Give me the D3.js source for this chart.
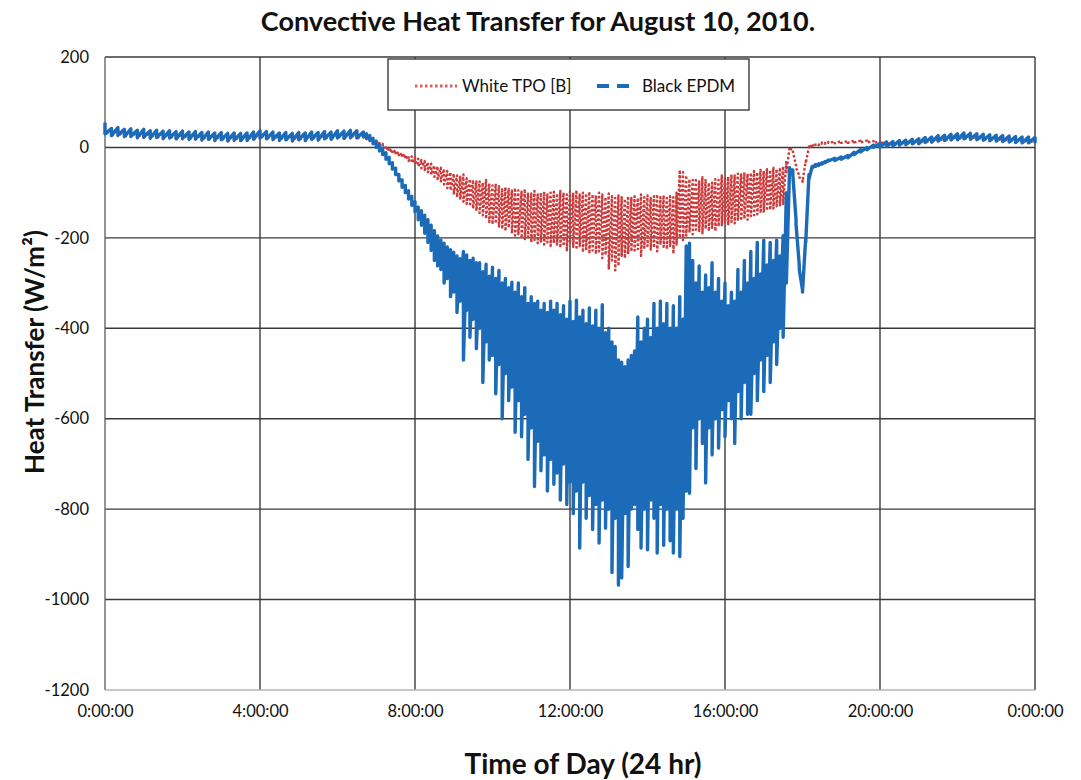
<!DOCTYPE html>
<html>
<head>
<meta charset="utf-8">
<script src="https://cdn.jsdelivr.net/npm/d3@7"></script>
<style>
  body { margin: 0; background: #fff; }
  text { font-family: Lato, "Open Sans", sans-serif; fill: #111; }
</style>
</head>
<body>
<div id="chart"></div>
<script>
var seriesNames = ["White TPO [B]", "Black EPDM"];
var hourTicks = [0, 4, 8, 12, 16, 20, 24];
var hourTickLabels = ["0:00:00", "4:00:00", "8:00:00", "12:00:00", "16:00:00", "20:00:00", "0:00:00"];
var valueTicks = [200, 0, -200, -400, -600, -800, -1000, -1200];

// Each slot holds the highest and the lowest reading seen in it.

// 0:00 -> 6:40, 10 min slots
var whiteNightHigh = [45, 38, 40, 36, 37, 34, 36, 33, 34, 32, 33, 31, 32, 30, 31, 29, 30, 28, 29, 27,
  28, 27, 28, 30, 33, 31, 30, 28, 29, 27, 29, 28, 30, 29, 31, 30, 33, 32, 34, 33, 30];
var whiteNightLow = [28, 24, 25, 22, 23, 20, 21, 19, 20, 18, 19, 17, 18, 16, 17, 15, 16, 14, 15, 13,
  14, 13, 14, 16, 19, 17, 16, 14, 15, 13, 15, 14, 16, 15, 17, 16, 19, 18, 20, 19, 22];
var blackNightHigh = [55, 42, 44, 40, 41, 38, 40, 37, 38, 36, 37, 35, 36, 34, 35, 33, 34, 32, 33, 31,
  32, 31, 32, 34, 37, 35, 34, 32, 33, 31, 33, 32, 34, 33, 35, 34, 37, 36, 38, 37, 36];
var blackNightLow = [30, 26, 27, 24, 25, 22, 23, 21, 22, 20, 21, 19, 20, 18, 19, 17, 18, 16, 17, 15,
  16, 15, 16, 18, 21, 19, 18, 16, 17, 15, 17, 16, 18, 17, 19, 18, 21, 20, 22, 21, 24];

// 6:40 -> 18:40, 5 min slots (one row = one hour)
var whiteDayHigh = [
  28, 24, 22, 18, 15, 10, 8, 3, 0, -4, -6, -10,
  -12, -15, -18, -20, -22, -25, -28, -30, -33, -36, -40, -42,
  -45, -48, -52, -55, -58, -62, -65, -60, -68, -70, -72, -75,
  -75, -78, -72, -80, -84, -80, -86, -90, -88, -92, -95, -90,
  -95, -98, -92, -100, -102, -96, -104, -100, -98, -104, -100, -98,
  -102, -96, -100, -104, -98, -100, -95, -104, -100, -102, -98, -104,
  -106, -100, -104, -110, -102, -108, -112, -106, -110, -114, -108, -112,
  -108, -112, -104, -110, -106, -112, -108, -104, -110, -106, -112, -108,
  -110, -100, -50, -55, -62, -70, -72, -68, -75, -66, -70, -78,
  -78, -70, -72, -62, -68, -65, -60, -62, -58, -60, -55, -58,
  -56, -52, -55, -50, -52, -48, -50, -45, -48, -45, -42, -30,
  0, -4, -40, -62, -72, -30, 2, 6, 9, 7, 11, 10,
  12];
var whiteDayLow = [
  22, 18, 14, 10, 6, 2, -2, -6, -10, -13, -16, -20,
  -22, -26, -30, -34, -38, -42, -46, -50, -55, -60, -65, -70,
  -75, -82, -90, -95, -102, -110, -115, -120, -125, -130, -135, -140,
  -145, -150, -158, -165, -170, -168, -175, -180, -185, -178, -190, -195,
  -192, -200, -205, -198, -210, -205, -212, -208, -215, -210, -218, -212,
  -215, -222, -218, -230, -212, -220, -226, -218, -232, -225, -235, -228,
  -236, -230, -245, -238, -268, -250, -272, -262, -240, -245, -236, -230,
  -228, -225, -240, -222, -218, -226, -222, -230, -215, -220, -225, -218,
  -235, -215, -200, -205, -195, -188, -192, -182, -185, -190, -180, -185,
  -178, -185, -175, -172, -168, -170, -165, -168, -160, -162, -158, -160,
  -152, -150, -148, -145, -142, -140, -138, -135, -130, -128, -125, -55,
  -3, -8, -45, -66, -76, -35, -1, 3, 6, 5, 8, 8,
  10];
var blackDayHigh = [
  34, 30, 26, 20, 14, 6, -2, -12, -22, -34, -46, -60,
  -72, -84, -96, -108, -120, -132, -140, -150, -160, -172, -184, -196,
  -205, -212, -220, -226, -232, -240, -246, -230, -238, -250, -245, -255,
  -255, -275, -258, -285, -265, -290, -272, -300, -290, -310, -298, -320,
  -300, -330, -310, -345, -330, -345, -340, -360, -345, -365, -340, -360,
  -345, -370, -350, -380, -340, -385, -338, -375, -360, -390, -355, -395,
  -360, -400, -348, -410, -400, -430, -440, -470, -475, -485, -470, -460,
  -450, -375, -430, -400, -380, -420, -345, -400, -340, -390, -345, -400,
  -350, -400, -330, -380, -218, -212, -250, -300, -262, -320, -282, -310,
  -255, -320, -290, -340, -300, -350, -320, -340, -270, -320, -250, -300,
  -230, -290, -210, -280, -205, -260, -210, -250, -205, -240, -195, -100,
  -45, -50, -160, -260, -315, -200, -60, -42, -38, -36, -34, -31,
  -28];
var blackDayLow = [
  24, 20, 16, 8, 0, -8, -16, -26, -36, -48, -60, -74,
  -88, -100, -114, -128, -142, -160, -172, -190, -210, -228, -250, -262,
  -270, -300, -290, -330, -320, -365, -340, -470, -360, -420, -380, -445,
  -400, -520, -430, -470, -460, -545, -480, -600, -500, -560, -530, -630,
  -560, -640, -590, -690, -620, -750, -650, -715, -680, -760, -690, -745,
  -720, -780, -700, -790, -740, -810, -760, -886, -740, -820, -770, -845,
  -790, -875, -780, -842, -800, -940, -820, -968, -952, -810, -927, -800,
  -790, -845, -886, -800, -890, -780, -820, -897, -790, -880, -800, -870,
  -897, -800, -905, -820, -760, -765, -620, -710, -600, -655, -742, -620,
  -680, -600, -665, -580, -640, -560, -600, -655, -540, -600, -520, -590,
  -590, -500, -560, -470, -540, -460, -520, -430, -480, -400, -420, -300,
  -50, -60, -170, -270, -320, -210, -70, -46, -42, -40, -37, -34,
  -30];

// 18:40 -> 24:00, 10 min slots
var whiteEveHigh = [13, 13, 14, 14, 15, 15, 15, 14, 14, 13, 12, 12, 13, 14, 15, 17, 18, 20, 21, 23,
  24, 25, 25, 24, 23, 22, 21, 20, 19, 18, 17, 17, 16];
var whiteEveLow = [10, 9, 10, 10, 11, 11, 11, 10, 9, 7, 5, 5, 6, 7, 8, 10, 11, 13, 14, 16,
  17, 18, 18, 17, 16, 15, 14, 13, 12, 11, 10, 10, 9];
var blackEveHigh = [-26, -24, -21, -18, -11, -5, 0, 5, 9, 12, 13, 15, 16, 18, 19, 22, 23, 26, 27, 29,
  30, 32, 31, 30, 29, 28, 27, 26, 25, 24, 23, 23, 22];
var blackEveLow = [-30, -29, -26, -23, -16, -10, -5, 0, 1, 2, 3, 5, 6, 8, 8, 11, 12, 14, 15, 17,
  17, 19, 18, 17, 16, 15, 14, 13, 12, 11, 10, 10, 9];

var svgWidth = 1081;
var svgHeight = 780;

var margin = { top: 57, right: 46, bottom: 90, left: 105 };
var width = svgWidth - margin.left - margin.right;
var height = svgHeight - margin.top - margin.bottom;

var svg = d3.select("#chart")
  .append("svg")
  .attr("width", svgWidth)
  .attr("height", svgHeight);

var chartGroup = svg.append("g")
  .attr("transform", `translate(${margin.left}, ${margin.top})`);

// each slot gives two points at the same time: its high, then its low (t in hours)
function toBand(high, low, startHour, stepMin) {
  var pts = [];
  high.forEach(function(h, i) {
    var t = startHour + i * stepMin / 60;
    pts.push({ t: t, v: h });
    pts.push({ t: t, v: low[i] });
  });
  return pts;
}

function buildSeries(nHigh, nLow, dHigh, dLow, eHigh, eLow) {
  return toBand(nHigh, nLow, 0, 10).slice(0, -2)
    .concat(toBand(dHigh, dLow, 6 + 40 / 60, 5))
    .concat(toBand(eHigh, eLow, 18 + 40 / 60, 10).slice(2));
}

var whiteData = buildSeries(whiteNightHigh, whiteNightLow, whiteDayHigh, whiteDayLow, whiteEveHigh, whiteEveLow);
var blackData = buildSeries(blackNightHigh, blackNightLow, blackDayHigh, blackDayLow, blackEveHigh, blackEveLow);

var xScale = d3.scaleLinear().domain([0, 24]).range([0, width]);
var yScale = d3.scaleLinear().domain([-1200, 200]).range([height, 0]);

// grid
chartGroup.append("g")
  .selectAll("line")
  .data(valueTicks.filter(d => d > -1200))
  .enter()
  .append("line")
  .attr("x1", 0).attr("x2", width)
  .attr("y1", d => yScale(d)).attr("y2", d => yScale(d))
  .attr("stroke", "#3a3a3a")
  .attr("stroke-width", 1.4);

chartGroup.append("g")
  .selectAll("line")
  .data(hourTicks)
  .enter()
  .append("line")
  .attr("x1", d => xScale(d)).attr("x2", d => xScale(d))
  .attr("y1", 0).attr("y2", height)
  .attr("stroke", d => d === 0 ? "#666" : "#3a3a3a")
  .attr("stroke-width", 1.4);

chartGroup.append("line")
  .attr("x1", 0).attr("x2", width)
  .attr("y1", height).attr("y2", height)
  .attr("stroke", "#b5b5b5")
  .attr("stroke-width", 1.4);

// tick labels from d3 axes (axis lines hidden)
var bottomAxis = d3.axisBottom(xScale)
  .tickValues(hourTicks)
  .tickFormat((d, i) => hourTickLabels[i])
  .tickSize(0)
  .tickPadding(15);
var leftAxis = d3.axisLeft(yScale)
  .tickValues(valueTicks)
  .tickFormat(d => String(d))
  .tickSize(0)
  .tickPadding(16);

var xAxisG = chartGroup.append("g")
  .attr("transform", `translate(0, ${height})`)
  .call(bottomAxis);
var yAxisG = chartGroup.append("g").call(leftAxis);

[xAxisG, yAxisG].forEach(function(g) {
  g.select(".domain").remove();
  g.selectAll("text")
    .style("font-family", "Lato, 'Open Sans', sans-serif")
    .style("font-size", "16.5px")
    .attr("fill", "#111");
});

// series
var line = d3.line()
  .x(d => xScale(d.t))
  .y(d => yScale(d.v));

chartGroup.append("path")
  .datum(whiteData)
  .attr("d", line)
  .attr("fill", "none")
  .attr("stroke", "#cc3b3b")
  .attr("stroke-width", 2.4)
  .attr("stroke-dasharray", "2.5,2")
  .attr("stroke-linejoin", "round");

chartGroup.append("path")
  .datum(blackData)
  .attr("d", line)
  .attr("fill", "none")
  .attr("stroke", "#1c6bb8")
  .attr("stroke-width", 3.4)
  .attr("stroke-linejoin", "round");

// legend
var legend = svg.append("g").attr("transform", "translate(388, 59)");
legend.append("rect")
  .attr("width", 361).attr("height", 51)
  .attr("fill", "#fff")
  .attr("stroke", "#3a3a3a")
  .attr("stroke-width", 1.4);
legend.append("line")
  .attr("x1", 27).attr("x2", 69).attr("y1", 27).attr("y2", 27)
  .attr("stroke", "#d9605c").attr("stroke-width", 3)
  .attr("stroke-dasharray", "2.5,2.5");
legend.append("text")
  .attr("x", 74).attr("y", 33)
  .style("font-size", "17px")
  .text(seriesNames[0]);
legend.append("line")
  .attr("x1", 209).attr("x2", 243).attr("y1", 27).attr("y2", 27)
  .attr("stroke", "#1c6bb8").attr("stroke-width", 4)
  .attr("stroke-dasharray", "12,8");
legend.append("text")
  .attr("x", 254).attr("y", 33)
  .style("font-size", "17px")
  .text(seriesNames[1]);

// titles
svg.append("text")
  .attr("x", 538).attr("y", 31)
  .attr("text-anchor", "middle")
  .style("font-size", "27px")
  .style("font-weight", "bold")
  .text("Convective Heat Transfer for August 10, 2010.");

svg.append("text")
  .attr("x", 583).attr("y", 774)
  .attr("text-anchor", "middle")
  .style("font-size", "28px")
  .style("font-weight", "bold")
  .text("Time of Day (24 hr)");

svg.append("text")
  .attr("transform", "translate(44, 352) rotate(-90)")
  .attr("text-anchor", "middle")
  .style("font-size", "26px")
  .style("font-weight", "bold")
  .text("Heat Transfer (W/m²)");
</script>
</body>
</html>
